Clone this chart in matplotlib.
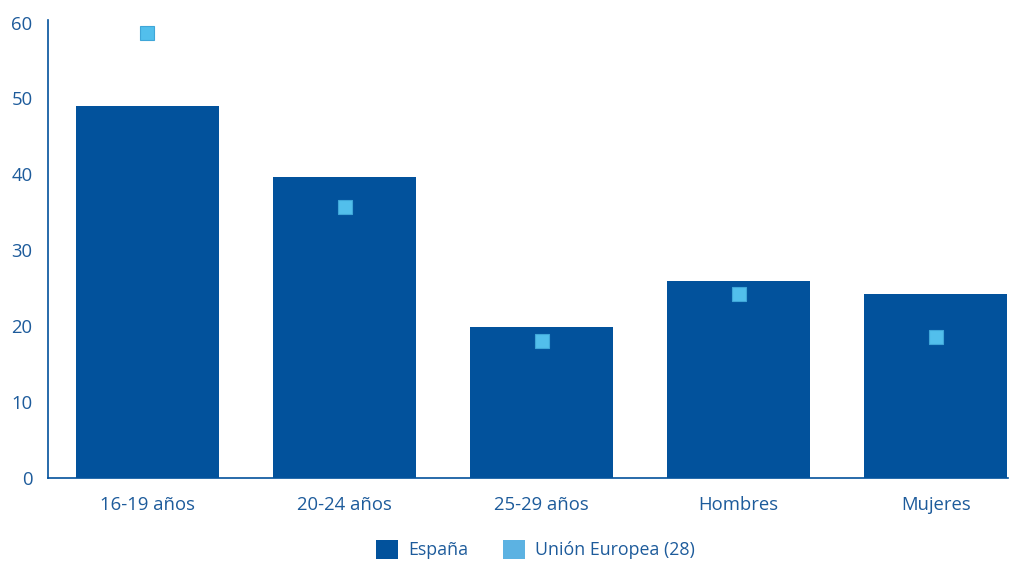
import matplotlib
matplotlib.use('Agg')
import numpy as np
import matplotlib.pyplot as plt
from matplotlib.patches import Patch

CATEGORIES = ['16-19 años', '20-24 años', '25-29 años', 'Hombres', 'Mujeres']
ESPANA = [49.0, 39.6, 19.9, 25.9, 24.3]
UE28 = [58.6, 35.7, 18.0, 24.3, 18.6]
Y_TICKS = [0, 10, 20, 30, 40, 50, 60]

DARK = '#02529c'
LIGHT = '#52bfec'
TEXT = '#1d5b9b'

plt.rcParams['font.family'] = ['Open Sans', 'DejaVu Sans']

fig = plt.figure(figsize=(10.2, 5.63), dpi=100)
ax = fig.add_axes([0.047, 0.151, 0.941, 0.813])

x = np.arange(len(CATEGORIES))
ax.bar(x, ESPANA, width=0.726, color=DARK, zorder=2)
ax.plot(x, UE28, linestyle='none', marker='s', markersize=10.5,
        markerfacecolor=LIGHT, markeredgecolor='#3fa6d8', markeredgewidth=0.8, zorder=3)

ax.set_xlim(-0.505, 4.365)
ax.set_ylim(0, 60.3)
ax.set_yticks(Y_TICKS)
ax.set_xticks(x)
ax.set_xticklabels(CATEGORIES)
ax.tick_params(axis='both', length=0, labelsize=13.3, colors=TEXT)
ax.tick_params(axis='x', pad=13)
ax.tick_params(axis='y', pad=11)

for side in ['top', 'right']:
    ax.spines[side].set_visible(False)
for side in ['left', 'bottom']:
    ax.spines[side].set_color(DARK)
    ax.spines[side].set_linewidth(1.2)

handles = [Patch(facecolor=DARK, edgecolor='none'),
           Patch(facecolor='#5cb2e2', edgecolor='none')]
fig.legend(handles, ['España', 'Unión Europea (28)'], loc='lower center',
           bbox_to_anchor=(0.525, -0.022), ncol=2, frameon=False,
           fontsize=12.8, labelcolor=TEXT, handlelength=1.25, handleheight=1.25,
           handletextpad=0.6, columnspacing=1.9)

fig.savefig('out.png', dpi=100)
